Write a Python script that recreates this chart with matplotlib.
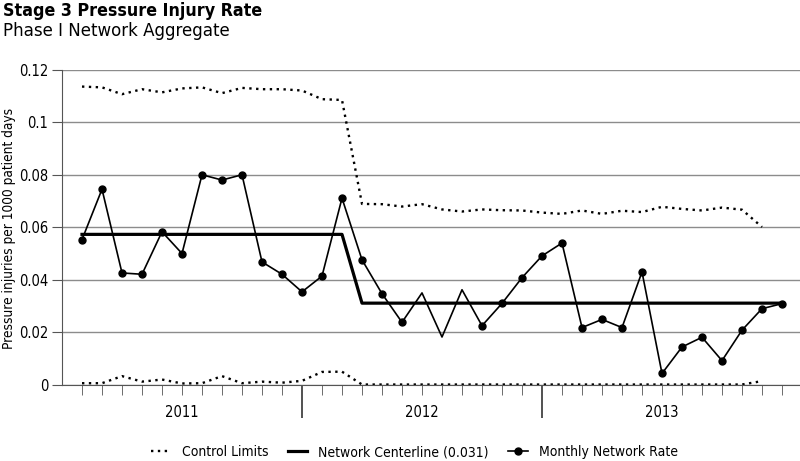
import numpy as np
import matplotlib
matplotlib.use('Agg')
import matplotlib.pyplot as plt
import matplotlib.transforms as mtransforms
from matplotlib import font_manager

# narrow font if there is one, else condensed DejaVu
names = set(f.name for f in font_manager.fontManager.ttflist)
if 'Liberation Sans Narrow' in names:
    plt.rcParams['font.family'] = ['Liberation Sans Narrow', 'DejaVu Sans']
else:
    plt.rcParams['font.family'] = ['DejaVu Sans']
    plt.rcParams['font.stretch'] = 'condensed'

# monthly data, Jan 2011 .. Dec 2013 (36 months)
months = np.arange(1, 37)
rate = [0.0552, 0.0744, 0.0425, 0.0420, 0.0582, 0.0499, 0.0799, 0.0779, 0.0799, 0.0467, 0.0420, 0.0353,
        0.0413, 0.0710, 0.0475, 0.0346, 0.0237, 0.0349, 0.0181, 0.0361, 0.0224, 0.0309, 0.0407, 0.0490,
        0.0539, 0.0217, 0.0248, 0.0217, 0.0429, 0.0042, 0.0143, 0.0180, 0.0091, 0.0207, 0.0289, 0.0308]
centerline = [0.0572, 0.0572, 0.0572, 0.0572, 0.0572, 0.0572, 0.0572, 0.0572, 0.0572, 0.0572, 0.0572, 0.0572,
              0.0572, 0.0572, 0.031, 0.031, 0.031, 0.031, 0.031, 0.031, 0.031, 0.031, 0.031, 0.031,
              0.031, 0.031, 0.031, 0.031, 0.031, 0.031, 0.031, 0.031, 0.031, 0.031, 0.031, 0.031]
# control limits cover months 1..35
ucl = [0.1135, 0.1132, 0.1106, 0.1125, 0.1113, 0.1128, 0.1132, 0.1110, 0.1130, 0.1125, 0.1125, 0.1120,
       0.1087, 0.1084, 0.0688, 0.0687, 0.0678, 0.0687, 0.0667, 0.0659, 0.0667, 0.0664, 0.0663, 0.0655,
       0.0650, 0.0663, 0.0650, 0.0662, 0.0657, 0.0677, 0.0669, 0.0663, 0.0674, 0.0666, 0.0600]
lcl = [0.0005, 0.0005, 0.0032, 0.0011, 0.0019, 0.0004, 0.0005, 0.0032, 0.0005, 0.0011, 0.0007, 0.0014,
       0.0048, 0.0049, 0.0, 0.0, 0.0, 0.0, 0.0, 0.0, 0.0, 0.0, 0.0, 0.0,
       0.0, 0.0, 0.0, 0.0, 0.0, 0.0, 0.0, 0.0, 0.0, 0.0, 0.0013]
no_marker = [18, 19, 20]  # months drawn without a dot
years = ['2011', '2012', '2013']

fig = plt.figure(figsize=(8, 4.61), dpi=100)
ax = fig.add_axes([0.0775, 0.1659, 0.9225, 0.6833])

ax.set_xlim(0, 36.9)
ax.set_ylim(0, 0.12)
ax.set_yticks([0, 0.02, 0.04, 0.06, 0.08, 0.1, 0.12])
ax.set_yticklabels(['0', '0.02', '0.04', '0.06', '0.08', '0.1', '0.12'], fontsize=10.5)
ax.yaxis.grid(True, color='#8c8c8c', lw=1.0)
ax.set_axisbelow(True)

for s in ['top', 'right']:
    ax.spines[s].set_visible(False)
ax.spines['left'].set_color('#555555')
ax.spines['bottom'].set_color('#555555')
ax.tick_params(axis='y', length=7, color='#555555', pad=3)

# month ticks short, year boundaries long
ax.set_xticks(months, minor=True)
ax.set_xticks([12, 24])
ax.set_xticklabels([])
ax.tick_params(axis='x', which='minor', length=7, color='#555555')
ax.tick_params(axis='x', which='major', length=24, color='#333333', width=1.2)

mx = months[:len(ucl)]
ax.plot(mx, ucl, color='black', lw=1.7, ls=(0, (1, 1.9)), label='Control Limits')
ax.plot(mx, lcl, color='black', lw=1.7, ls=(0, (1, 1.9)))
ax.plot(months, centerline, color='black', lw=2.3, label='Network Centerline (0.031)')
marks = [i for i in range(len(months)) if months[i] not in no_marker]
ax.plot(months, rate, color='black', lw=1.2, marker='o', ms=5, markevery=marks,
        label='Monthly Network Rate')

trans = mtransforms.blended_transform_factory(ax.transData, fig.transFigure)
for i, y in enumerate(years):
    ax.text(6 + 12 * i, 1 - 412 / 461, y, transform=trans, ha='center', va='center', fontsize=10.5)

fig.text(3 / 800, 1 - 15.7 / 461, 'Stage 3 Pressure Injury Rate', fontsize=12.8, fontweight='bold',
         ha='left', va='baseline')
fig.text(3 / 800, 1 - 36 / 461, 'Phase I Network Aggregate', fontsize=13.3, ha='left', va='baseline')
fig.text(9 / 800, 1 - 228 / 461, 'Pressure injuries per 1000 patient days', rotation=90,
         ha='center', va='center', fontsize=9.8)

fig.legend(loc='center', bbox_to_anchor=(0.518, 1 - 452 / 461), ncol=3, frameon=False,
           fontsize=10, handlelength=1.4, handletextpad=0.8, columnspacing=1.4)

fig.savefig('out.png', dpi=100)
